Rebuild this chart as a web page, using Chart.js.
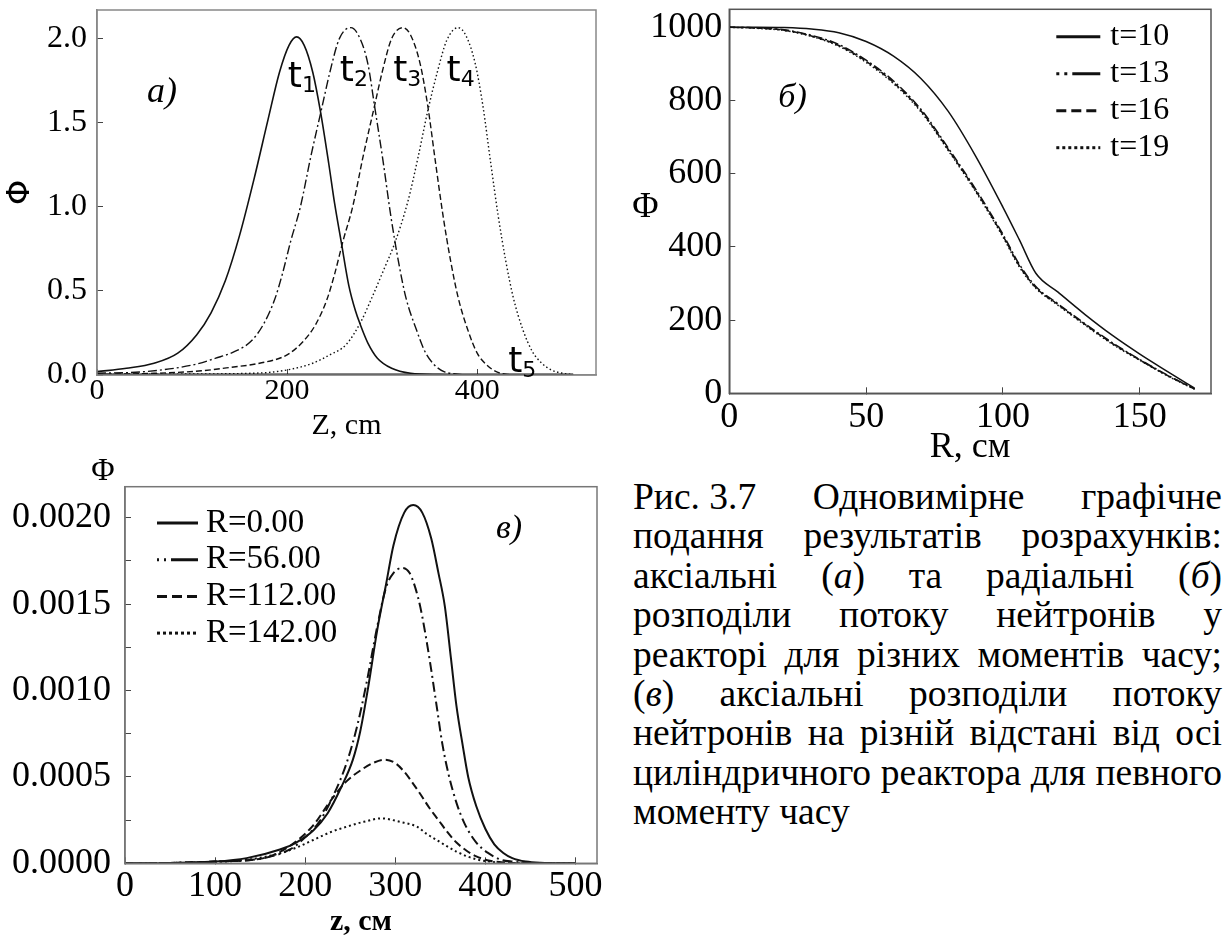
<!DOCTYPE html>
<html>
<head>
<meta charset="utf-8">
<script src="https://cdn.jsdelivr.net/npm/chart.js@4.4.1/dist/chart.umd.min.js"></script>
<style>
  html, body { margin: 0; padding: 0; background: #fff; }
  body { width: 1226px; height: 940px; position: relative; overflow: hidden; }
  canvas { position: absolute; }
  #capt {
    position: absolute; left: 633px; top: 477px; width: 589px;
    font-family: 'Liberation Serif', 'Times New Roman', serif;
    font-size: 37.5px; line-height: 39.4px; color: #000;
  }
  #capt div { white-space: nowrap; text-align: justify; text-align-last: justify; }
  #capt div.last { text-align: left; text-align-last: left; }
  #capt span.k { display: inline-block; }
</style>
</head>
<body>
<canvas id="chA" width="600" height="450" style="left:0;top:0"></canvas>
<canvas id="chB" width="616" height="470" style="left:610px;top:0"></canvas>
<canvas id="chV" width="610" height="490" style="left:0;top:450px"></canvas>

<div id="capt">
  <div><span class="k">Рис. 3.7</span> Одновимірне графічне</div>
  <div>подання результатів розрахунків:</div>
  <div>аксіальні (<i>а</i>) та радіальні (<i>б</i>)</div>
  <div>розподіли потоку нейтронів у</div>
  <div>реакторі для різних моментів часу;</div>
  <div>(<i>в</i>) аксіальні розподіли потоку</div>
  <div>нейтронів на різній відстані від осі</div>
  <div>циліндричного реактора для певного</div>
  <div class="last">моменту часу</div>
</div>

<script>
const SERIF = "'Liberation Serif', 'Times New Roman', serif";
const SANS = "'DejaVu Sans', sans-serif";

// a) axial flux, different moments of time
const zT1 = [0, 31, 60, 85, 105, 120, 135, 150, 165, 180, 192, 202, 210, 218, 227, 235, 244, 250, 257, 265, 272, 277, 285, 295, 310, 330, 360, 400, 450, 500];
const phiT1 = [0.02, 0.04, 0.07, 0.13, 0.24, 0.37, 0.56, 0.83, 1.16, 1.52, 1.80, 1.96, 2.01, 1.96, 1.80, 1.57, 1.25, 1.02, 0.79, 0.53, 0.38, 0.30, 0.19, 0.10, 0.04, 0.01, 0.002, 0, 0, 0];
const zT2 = [0, 50, 101, 125, 145, 162, 175, 187, 195, 204, 214, 225, 237, 245, 255, 267, 275, 285, 292, 301, 309, 317, 325, 336, 345, 355, 365, 375, 385, 400, 500];
const phiT2 = [0.01, 0.02, 0.06, 0.1, 0.14, 0.2, 0.3, 0.45, 0.6, 0.8, 1.0, 1.3, 1.6, 1.8, 2.0, 2.065, 2.02, 1.85, 1.6, 1.27, 0.95, 0.68, 0.46, 0.27, 0.14, 0.06, 0.02, 0.008, 0.002, 0, 0];
const zT3 = [0, 60, 110, 140, 171, 200, 217, 230, 242, 250, 259, 269, 280, 292, 300, 310, 322, 330, 340, 348, 356, 364, 372, 380, 390, 400, 410, 420, 430, 450, 500];
const phiT3 = [0.004, 0.01, 0.025, 0.045, 0.07, 0.12, 0.2, 0.3, 0.45, 0.6, 0.8, 1.0, 1.3, 1.6, 1.8, 2.0, 2.065, 2.02, 1.85, 1.6, 1.27, 0.95, 0.68, 0.46, 0.27, 0.13, 0.06, 0.02, 0.005, 0, 0];
const zT4 = [0, 100, 171, 200, 227, 245, 262, 277, 290, 302, 313, 327, 338, 348, 358, 368, 380, 388, 398, 406, 414, 422, 430, 438, 448, 458, 468, 478, 490, 501];
const phiT4 = [0.002, 0.006, 0.012, 0.03, 0.07, 0.12, 0.18, 0.31, 0.47, 0.63, 0.78, 1.03, 1.3, 1.57, 1.8, 1.99, 2.065, 2.02, 1.85, 1.6, 1.27, 0.95, 0.68, 0.46, 0.27, 0.14, 0.07, 0.03, 0.01, 0.002];
const zT5 = [0, 501];
const phiT5 = [0, 0];

// б) radial flux
const rB = [0, 10, 20, 30, 40, 50, 60, 70, 80, 90, 100, 106, 112, 120, 130, 140, 150, 160, 170];
const phiB10 = [1000, 1000, 999, 995, 985, 961, 921, 860, 770, 648, 508, 419, 328, 277, 215, 158, 107, 60, 14];
const phiB13 = [1000, 998, 993, 978, 953, 910, 853, 776, 670, 558, 434, 352, 292, 245, 190, 138, 92, 50, 12];
const phiB16 = [1000, 998, 992, 976, 950, 907, 849, 772, 666, 554, 430, 348, 289, 243, 188, 136, 91, 49, 12];
const phiB19 = [1000, 997, 991, 975, 948, 904, 846, 769, 663, 551, 427, 345, 287, 241, 186, 134, 90, 48, 11];

// в) axial flux at different radii
const zR0 = [0, 50, 100, 135, 172, 190, 209, 225, 240, 253, 261, 270, 280, 290, 298, 310, 320, 330, 340, 348, 355, 362, 368, 375, 381, 390, 400, 410, 420, 430, 445, 461, 500];
const phiR0 = [0, 0.000002, 0.00001, 0.00003, 0.00008, 0.00012, 0.00019, 0.00029, 0.00044, 0.0006, 0.00076, 0.00102, 0.00135, 0.00162, 0.00184, 0.00203, 0.002074, 0.00203, 0.00188, 0.00168, 0.00149, 0.00118, 0.00091, 0.00068, 0.0005, 0.00033, 0.0002, 0.00011, 0.00006, 0.00003, 0.00001, 0.000003, 0];
const zR56 = [0, 50, 100, 154, 183, 200, 217, 232, 246, 258, 268, 280, 290, 298, 308, 316, 322, 328, 336, 346, 352, 359, 368, 377, 390, 403, 418, 430, 460, 500];
const phiR56 = [0, 0.000002, 0.00001, 0.00003, 0.00008, 0.00015, 0.00025, 0.0004, 0.00058, 0.0008, 0.00104, 0.00137, 0.0016, 0.00168, 0.00171, 0.00168, 0.0016, 0.00148, 0.00125, 0.00091, 0.0007, 0.00052, 0.00035, 0.00023, 0.00012, 0.00006, 0.00002, 0.00001, 0, 0];
const zR112 = [0, 50, 100, 154, 183, 209, 228, 245, 265, 275, 288, 300, 310, 320, 328, 338, 348, 358, 368, 380, 390, 405, 420, 450, 500];
const phiR112 = [0, 0.000002, 0.00001, 0.00003, 0.0001, 0.00022, 0.00036, 0.00047, 0.00055, 0.00058, 0.0006, 0.00058, 0.00053, 0.00046, 0.0004, 0.00032, 0.00025, 0.00018, 0.00012, 0.00007, 0.00004, 0.000015, 0.000005, 0, 0];
const zR142 = [0, 50, 100, 135, 172, 190, 209, 228, 246, 265, 285, 305, 324, 335, 346, 357, 368, 380, 390, 405, 420, 450, 500];
const phiR142 = [0, 0.000002, 0.000008, 0.00002, 0.000058, 0.00009, 0.000135, 0.00018, 0.000212, 0.00024, 0.00026, 0.00024, 0.000212, 0.00017, 0.000135, 0.0001, 0.000068, 0.00004, 0.000023, 0.00001, 0.000003, 0, 0];

const DASHDOT = [9, 3, 2, 3];
const DASHED = [6, 3];
const DOTTED = [1.5, 2.5];

function pts(xs, ys) {
  return xs.map((x, i) => ({ x: x, y: ys[i] }));
}

function line(label, data, dash, width, extra) {
  return Object.assign({
    label: label,
    data: data,
    borderColor: '#111',
    borderWidth: width,
    borderDash: dash,
    pointRadius: 0,
    fill: false,
    cubicInterpolationMode: 'monotone'
  }, extra || {});
}

// force axis box size, drop the label overflow padding
function fixBox(w, h) {
  return function (scale) {
    if (w !== null) scale.width = w;
    if (h !== null) scale.height = h;
    scale.paddingTop = 0;
    scale.paddingBottom = 0;
    scale.paddingLeft = 0;
    scale.paddingRight = 0;
  };
}

// frame, free texts and an in-plot legend
function makeDeco(cfg) {
  return {
    id: 'deco',
    afterDraw(chart) {
      const ctx = chart.ctx, a = chart.chartArea;
      const sx = chart.scales.x, sy = chart.scales.y;
      ctx.save();
      ctx.strokeStyle = cfg.frame;
      ctx.lineWidth = 1.5;
      ctx.setLineDash([]);
      ctx.strokeRect(a.left, a.top, a.right - a.left, a.bottom - a.top);
      ctx.fillStyle = '#000';
      (cfg.texts || []).forEach(t => {
        let x, y;
        if (t.at) {
          x = sx.getPixelForValue(t.at[0]);
          y = sy.getPixelForValue(t.at[1]);
        } else {
          x = a.left + t.dx;
          y = a.top + t.dy;
        }
        ctx.font = t.font;
        ctx.textAlign = t.align || 'left';
        ctx.textBaseline = 'alphabetic';
        ctx.fillText(t.text, x, y);
        if (t.sub) {
          const w = ctx.measureText(t.text).width;
          ctx.font = t.subFont;
          ctx.textAlign = 'left';
          ctx.fillText(t.sub, x + w, y + t.subDy);
        }
      });
      const lg = cfg.legend;
      if (lg) {
        chart.data.datasets.forEach((ds, i) => {
          const y = a.top + lg.dy + i * lg.row;
          const x0 = a.left + lg.dx;
          ctx.strokeStyle = '#111';
          ctx.lineWidth = lg.lw;
          ctx.setLineDash(ds.legendDash || ds.borderDash || []);
          ctx.beginPath();
          ctx.moveTo(x0, y);
          ctx.lineTo(x0 + lg.w, y);
          ctx.stroke();
          ctx.setLineDash([]);
          ctx.font = lg.font;
          ctx.textAlign = 'left';
          ctx.textBaseline = 'middle';
          ctx.fillText(ds.label, x0 + lg.w + lg.gap, y);
        });
      }
      ctx.restore();
    }
  };
}

function axis(o) {
  return {
    type: 'linear',
    min: o.min,
    max: o.max,
    afterFit: o.fit,
    border: { display: true, color: o.frame, width: 1.5 },
    grid: { drawOnChartArea: false, tickLength: -6, color: '#444', lineWidth: 1 },
    ticks: {
      stepSize: o.step,
      includeBounds: false,
      autoSkip: false,
      maxRotation: 0,
      padding: o.pad,
      color: '#000',
      font: { family: SERIF, size: o.size },
      callback: o.fmt
    },
    title: o.title || { display: false }
  };
}

const common = {
  responsive: false,
  animation: false,
  devicePixelRatio: 1,
  plugins: { legend: { display: false }, tooltip: { enabled: false } }
};

// ---------- a)
const tFont = '36px ' + SANS, tSub = '22px ' + SANS;
new Chart(document.getElementById('chA'), {
  type: 'line',
  data: {
    datasets: [
      line('t1', pts(zT1, phiT1), [], 1.6),
      line('t2', pts(zT2, phiT2), DASHDOT, 1.4),
      line('t3', pts(zT3, phiT3), DASHED, 1.4),
      line('t4', pts(zT4, phiT4), DOTTED, 1.4),
      line('t5', pts(zT5, phiT5), [], 3)
    ]
  },
  options: Object.assign({}, common, {
    layout: { padding: { top: 10, right: 4, left: 0, bottom: 0 } },
    scales: {
      x: axis({
        min: 0, max: 525, step: 200, pad: 4, size: 30, frame: '#888', fit: fixBox(null, 75),
        title: { display: true, text: 'Z, cm', color: '#000', font: { family: SERIF, size: 30 }, padding: { top: 0, bottom: 6 } }
      }),
      y: axis({
        min: 0, max: 2.17, step: 0.5, pad: 16, size: 32, frame: '#888', fit: fixBox(97, null),
        fmt: v => v.toFixed(1),
        title: { display: true, text: 'Φ', color: '#000', font: { family: 'DejaVu Sans', size: 32 }, padding: { top: 1, bottom: 0 } }
      })
    }
  }),
  plugins: [makeDeco({
    frame: '#888',
    texts: [
      { at: [200.7, 1.71], text: 't', sub: '1', font: tFont, subFont: tSub, subDy: 5 },
      { at: [255.5, 1.75], text: 't', sub: '2', font: tFont, subFont: tSub, subDy: 5 },
      { at: [311.6, 1.75], text: 't', sub: '3', font: tFont, subFont: tSub, subDy: 5 },
      { at: [367.8, 1.75], text: 't', sub: '4', font: tFont, subFont: tSub, subDy: 5 },
      { at: [432.6, 0.02], text: 't', sub: '5', font: tFont, subFont: tSub, subDy: 5 },
      { dx: 50, dy: 92, text: 'а)', font: 'italic 36px ' + SERIF }
    ]
  })]
});

// ---------- б)
new Chart(document.getElementById('chB'), {
  type: 'line',
  data: {
    datasets: [
      line('t=10', pts(rB, phiB10), [], 1.5),
      line('t=13', pts(rB, phiB13), DASHDOT, 1.5, { legendDash: [3, 5, 3, 5, 28, 0] }),
      line('t=16', pts(rB, phiB16), DASHED, 1.5, { legendDash: [10, 5] }),
      line('t=19', pts(rB, phiB19), DOTTED, 1.5, { legendDash: [3, 3] })
    ]
  },
  options: Object.assign({}, common, {
    layout: { padding: { top: 9.3, right: 15, left: 0, bottom: 0 } },
    scales: {
      x: axis({
        min: 0, max: 176, step: 50, pad: 9, size: 36, frame: '#555', fit: fixBox(null, 76.7),
        title: { display: true, text: 'R, см', color: '#000', font: { family: SERIF, size: 36 }, padding: { top: 0, bottom: 1 } }
      }),
      y: axis({
        min: 0, max: 1049, step: 200, pad: 13, size: 36, frame: '#555', fit: fixBox(119.3, null)
      })
    }
  }),
  plugins: [makeDeco({
    frame: '#555',
    texts: [
      { dx: -84, dy: 208, text: 'Φ', align: 'center', font: '36px ' + SERIF },
      { dx: 49, dy: 98, text: 'б)', font: 'italic 34px ' + SERIF }
    ],
    legend: { dx: 327, dy: 27.4, w: 44, row: 37, gap: 10, lw: 3, font: '32px ' + SERIF }
  })]
});

// ---------- в)
new Chart(document.getElementById('chV'), {
  type: 'line',
  data: {
    datasets: [
      line('R=0.00', pts(zR0, phiR0), [], 2),
      line('R=56.00', pts(zR56, phiR56), [10, 4, 2, 4], 2, { legendDash: [2, 5, 2, 5, 30, 0] }),
      line('R=112.00', pts(zR112, phiR112), [8, 4], 2, { legendDash: [10, 5] }),
      line('R=142.00', pts(zR142, phiR142), [2, 3], 2, { legendDash: [3, 3] })
    ]
  },
  options: Object.assign({}, common, {
    layout: { padding: { top: 36.7, right: 13, left: 0, bottom: 0 } },
    scales: {
      x: axis({
        min: 0, max: 524, step: 100, pad: 8, size: 36, frame: '#777', fit: fixBox(null, 76.7),
        title: { display: true, text: 'z, см', color: '#000', font: { family: SERIF, size: 30, weight: 'bold' }, padding: { top: 0, bottom: 0 } }
      }),
      y: axis({
        min: 0, max: 0.00218, step: 0.00025, pad: 20, size: 36, frame: '#777', fit: fixBox(125, null),
        fmt: v => (Math.round(v / 0.00025) % 2 === 0 ? v.toFixed(4) : '')
      })
    }
  }),
  plugins: [makeDeco({
    frame: '#777',
    texts: [
      { dx: -22, dy: -6.7, text: 'Φ', align: 'center', font: '32px ' + SERIF },
      { dx: 371, dy: 51, text: 'в)', font: 'italic 34px ' + SERIF }
    ],
    legend: { dx: 32, dy: 36.3, w: 41, row: 36.7, gap: 8, lw: 3, font: '33px ' + SERIF }
  })]
});
</script>
</body>
</html>
